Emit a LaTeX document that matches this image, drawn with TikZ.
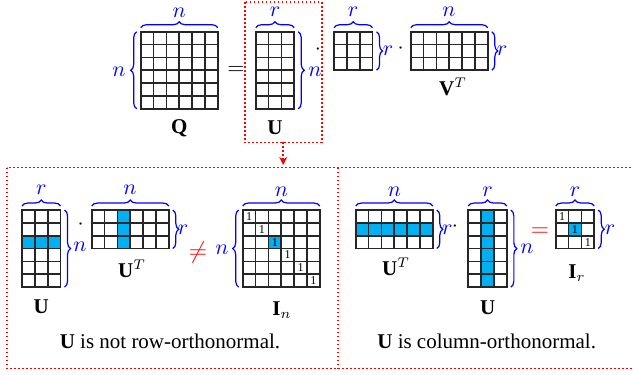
\documentclass[tikz,border=0pt]{standalone}
\usepackage{fontspec}
\setmainfont{Liberation Serif}
\usetikzlibrary{arrows.meta,decorations.pathreplacing}

\definecolor{cellblue}{RGB}{0,176,240}
\newcommand{\cs}{12.85}
% corners of a #4 x #5 grid, top left at (#2,#3)
\newcommand{\mplace}[5]{%
  \coordinate (#1-nw) at (#2,#3);
  \coordinate (#1-ne) at ({#2+#4*\cs},#3);
  \coordinate (#1-sw) at (#2,{#3+#5*\cs});
  \coordinate (#1-se) at ({#2+#4*\cs},{#3+#5*\cs});
}
\newcommand{\mgrid}[3]{%
  \foreach \i in {0,...,#2} { \draw[gridline] (#1-nw) ++({\i*\cs},0) -- ++(0,{#3*\cs}); }
  \foreach \j in {0,...,#3} { \draw[gridline] (#1-nw) ++(0,{\j*\cs}) -- ++({#2*\cs},0); }
}
\newcommand{\mcell}[3]{\fill[cellblue] (#1-nw) ++({#2*\cs},{#3*\cs}) rectangle ++(\cs,\cs);}
\newcommand{\mones}[2]{%
  \foreach \k in {1,...,#2} { \node[one] (#1-one\k) at ([shift={({(\k-0.5)*\cs},{(\k-0.5)*\cs})}]#1-nw) {1}; }
}

\begin{document}
\begin{tikzpicture}[x=0.5pt,y=-0.5pt,font=\fontsize{10.5}{12}\selectfont,
  gridline/.style={line width=0.85pt,black!85,line cap=rect},
  brc/.style={blue,line width=0.6pt,decorate,decoration={brace,amplitude=3pt,raise=2pt}},
  dim/.style={text=blue,inner sep=1pt},
  one/.style={inner sep=0pt,font=\fontsize{6}{6}\selectfont},
  reddot/.style={red,line width=0.8pt,dash pattern=on 0.8pt off 1.2pt}]
\useasboundingbox (0,0) rectangle (633,375);

\mplace{Q}{140.7}{31.7}{6}{6}  \mgrid{Q}{6}{6}
\mplace{U}{255.7}{31.7}{3}{6}  \mgrid{U}{3}{6}
\mplace{S}{334}{31.7}{3}{3}    \mgrid{S}{3}{3}
\mplace{V}{410.7}{31.7}{6}{3}  \mgrid{V}{6}{3}
\draw[brc] (Q-nw) -- (Q-ne);
\draw[brc] (Q-sw) -- (Q-nw);
\draw[brc] (U-nw) -- (U-ne);
\draw[brc] (U-ne) -- (U-se);
\draw[brc] (S-nw) -- (S-ne);
\draw[brc] (S-ne) -- (S-se);
\draw[brc] (V-nw) -- (V-ne);
\draw[brc] (V-ne) -- (V-se);
\node[dim] (nQt) at (179.2,13) {$n$};
\node[dim] (nQl) at (119,72) {$n$};
\node[dim] (rUt) at (275,12) {$r$};
\node[dim] (nUr) at (315,72) {$n$};
\node[dim] (rSt) at (353,12) {$r$};
\node[dim] (rSr) at (388,51) {$r$};
\node[dim] (nVt) at (449,12) {$n$};
\node[dim] (rVr) at (502,51) {$r$};
\node (eqtop) at (236,70) {$=$};
\node (dotA) at (318,50) {$\cdot$};
\node (dotB) at (400.7,49) {$\cdot$};
\node (Qname) at (179.2,128) {$\mathbf{Q}$};
\node (Uname) at (275,128) {$\mathbf{U}$};
\node (Sname) at (353,88) {$\mathbf{\Sigma}$};
\node (Vname) at (453,87) {$\mathbf{V}^T$};

\draw[reddot] (244.7,2) rectangle (321.7,142.3);
\coordinate (boxU-s) at (283.2,142.3);
\coordinate (boxL-n) at (283.2,165);
\draw[reddot,-{Stealth[length=4pt,width=4pt]}] (boxU-s) -- (boxL-n);
\draw[reddot] (7,167.5) rectangle (640,368.5);
\draw[reddot] (337.7,167.5) -- (337.7,368.5);

% U is not row-orthonormal
\mplace{Ua}{22}{210}{3}{6}
\mcell{Ua}{0}{2} \mcell{Ua}{1}{2} \mcell{Ua}{2}{2}
\mgrid{Ua}{3}{6}
\mplace{UTa}{91.7}{210}{6}{3}
\foreach \j in {0,1,2} { \mcell{UTa}{2}{\j} }
\mgrid{UTa}{6}{3}
\mplace{In}{242.7}{210}{6}{6}
\mcell{In}{2}{2}
\mgrid{In}{6}{6}
\mones{In}{6}
\draw[brc] (Ua-nw) -- (Ua-ne);
\draw[brc] (Ua-ne) -- (Ua-se);
\draw[brc] (UTa-nw) -- (UTa-ne);
\draw[brc] (UTa-ne) -- (UTa-se);
\draw[brc] (In-nw) -- (In-ne);
\draw[brc] (In-sw) -- (In-nw);
\node[dim] (rUat) at (41.3,190) {$r$};
\node[dim] (nUar) at (80,247) {$n$};
\node[dim] (nUTat) at (130,190) {$n$};
\node[dim] (rUTar) at (183,230) {$r$};
\node[dim] (nInl) at (222,250) {$n$};
\node[dim] (nInt) at (281.4,191.7) {$n$};
\node (dotC) at (80.7,224.7) {$\cdot$};
\node[red,font=\large,inner sep=1pt] (neq) at (198,252) {$\neq$};
\node (Uaname) at (41.3,307) {$\mathbf{U}$};
\node (UTaname) at (132,269) {$\mathbf{U}^T$};
\node (Inname) at (282,310) {$\mathbf{I}_n$};
\node (rowcap) at (170,341.7) {$\mathbf{U}$ is not row-orthonormal.};

% U is column-orthonormal
\mplace{UTb}{355.7}{210}{6}{3}
\foreach \i in {0,...,5} { \mcell{UTb}{\i}{1} }
\mgrid{UTb}{6}{3}
\mplace{Ub}{468.3}{210}{3}{6}
\foreach \j in {0,...,5} { \mcell{Ub}{1}{\j} }
\mgrid{Ub}{3}{6}
\mplace{Ir}{555.7}{210}{3}{3}
\mcell{Ir}{1}{1}
\mgrid{Ir}{3}{3}
\mones{Ir}{3}
\draw[brc] (UTb-nw) -- (UTb-ne);
\draw[brc] (UTb-ne) -- (UTb-se);
\draw[brc] (Ub-nw) -- (Ub-ne);
\draw[brc] (Ub-ne) -- (Ub-se);
\draw[brc] (Ir-nw) -- (Ir-ne);
\draw[brc] (Ir-ne) -- (Ir-se);
\node[dim] (nUTbt) at (394.4,191.7) {$n$};
\node[dim] (rUTbr) at (447.3,230) {$r$};
\node[dim] (rUbt) at (487.7,191.7) {$r$};
\node[dim] (nUbr) at (527,249) {$n$};
\node[dim] (rIrt) at (575,191.7) {$r$};
\node[dim] (rIrr) at (610,230) {$r$};
\node (dotD) at (455,227) {$\cdot$};
\node[red,font=\large,inner sep=1pt] (eqb) at (540,232) {$=$};
\node (UTbname) at (396,267) {$\mathbf{U}^T$};
\node (Ubname) at (487.7,308) {$\mathbf{U}$};
\node (Irname) at (577,273) {$\mathbf{I}_r$};
\node (colcap) at (486.7,341.7) {$\mathbf{U}$ is column-orthonormal.};
\end{tikzpicture}
\end{document}
